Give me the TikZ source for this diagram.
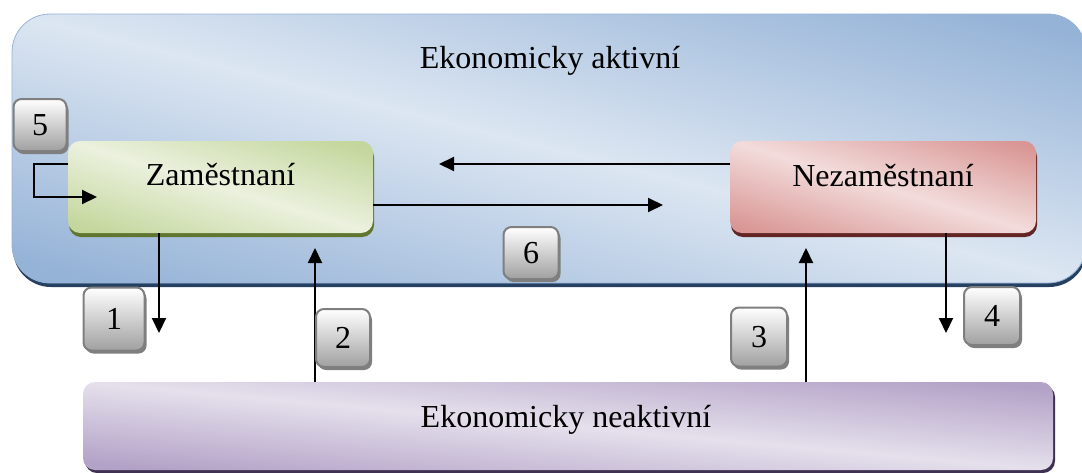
\documentclass[tikz,border=0pt]{standalone}
\usepackage{fontspec}
\setmainfont{Liberation Serif}
\usetikzlibrary{arrows.meta,shadows}
\definecolor{bluedark}{HTML}{95B3D7}
\definecolor{bluelight}{HTML}{DCE6F2}
\definecolor{blueshadow}{HTML}{254061}
\definecolor{greendark}{HTML}{C3D69B}
\definecolor{greenlight}{HTML}{EBF1DE}
\definecolor{greenshadow}{HTML}{5F7530}
\definecolor{reddark}{HTML}{D99694}
\definecolor{redlight}{HTML}{F2DCDB}
\definecolor{redshadow}{HTML}{632523}
\definecolor{purpdark}{HTML}{B3A2C7}
\definecolor{purplight}{HTML}{E5E0EC}
\definecolor{purpshadow}{HTML}{3F3151}
\definecolor{badgeline}{HTML}{7F7F7F}
\definecolor{badgebottom}{HTML}{A0A0A0}
\newcommand\mydiagshade[2]{%
  \pgfpointanchor{path picture bounding box}{south west}\pgfgetlastxy\dsllx\dslly
  \pgfpointanchor{path picture bounding box}{north east}\pgfgetlastxy\dsurx\dsury
  \pgfmathsetmacro\dshw{(\dsurx-\dsllx)/2}%
  \pgfmathsetmacro\dshh{(\dsury-\dslly)/2}%
  \pgfmathsetmacro\dscx{(\dsurx+\dsllx)/2}%
  \pgfmathsetmacro\dscy{(\dsury+\dslly)/2}%
  \begin{scope}[transform canvas={cm={\dshw,0,0,\dshh,(\dscx pt,\dscy pt)}}]
    \shade[top color=#1, bottom color=#1, middle color=#2, shading angle=-45]
      (-1.3pt,-1.3pt) rectangle (1.3pt,1.3pt);
  \end{scope}}
\begin{document}
\begin{tikzpicture}[x=1pt,y=-1pt,
  txt/.style={font=\fontsize{32}{36}\selectfont, anchor=base, inner sep=0pt},
  diag/.style 2 args={path picture={\mydiagshade{#1}{#2}}},
  bigbox/.style={rounded corners=38pt, draw=bluedark, line width=0.8pt,
    diag={bluedark}{bluelight},
    drop shadow={shadow xshift=1pt, shadow yshift=-4pt, fill=blueshadow, opacity=1}},
  catbox/.style={rounded corners=12pt},
  greenbox/.style={catbox, diag={greendark}{greenlight},
    drop shadow={shadow xshift=1pt, shadow yshift=-4pt, fill=greenshadow, opacity=1}},
  redbox/.style={catbox, diag={reddark}{redlight},
    drop shadow={shadow xshift=1pt, shadow yshift=-4pt, fill=redshadow, opacity=1}},
  purpbox/.style={catbox, diag={purpdark}{purplight},
    drop shadow={shadow xshift=2pt, shadow yshift=-3pt, fill=purpshadow, opacity=1}},
  anch/.style={inner sep=0pt, outer sep=0pt},
  badge/.style={rounded corners=8pt, draw=badgeline, line width=2pt,
    top color=white, bottom color=badgebottom, inner sep=0pt,
    minimum width=55pt, minimum height=56pt,
    font=\fontsize{32}{36}\selectfont,
    drop shadow={shadow xshift=2pt, shadow yshift=-3pt, fill=badgeline, opacity=1}},
  arr/.style={line width=2pt, -{Triangle[length=15pt,width=14pt]}},
]
\useasboundingbox (0,0) rectangle (1082,472);

% big blue region
\path[bigbox] (12,14) rectangle (1086,283);
\node[txt] (act) at (550,68) {Ekonomicky aktivní};

% category boxes (shaded shapes + named nodes spanning them)
\path[greenbox] (68,141) rectangle (373,233);
\node[anch, minimum width=305pt, minimum height=92pt] (z) at (220.5,187) {};
\node[txt] (zt) at (220.5,185) {Zaměstnaní};
\path[redbox] (730,141) rectangle (1036,233);
\node[anch, minimum width=306pt, minimum height=92pt] (n) at (883,187) {};
\node[txt] (nt) at (883,186) {Nezaměstnaní};
\path[purpbox] (83,382) rectangle (1053,470);
\node[anch, minimum width=970pt, minimum height=88pt] (p) at (568,426) {};
\node[txt] (pt) at (566,427) {Ekonomicky neaktivní};

% arrow coordinates
\coordinate (l1) at (34,164);
\coordinate (l2) at (97,197);
\coordinate (a1) at (439,164);
\coordinate (a2) at (663,205);
\coordinate (t1) at (159,333);
\coordinate (t2) at (315,248);
\coordinate (t3) at (806,248);
\coordinate (t4) at (946,333);

% arrows
\draw[arr] (z.west|-l1) -- (l1) |- (l2);
\draw[arr] (n.west|-a1) -- (a1);
\draw[arr] (z.east|-a2) -- (a2);
\draw[arr] (t1|-z.south) -- (t1);
\draw[arr] (t2|-p.north) -- (t2);
\draw[arr] (t3|-p.north) -- (t3);
\draw[arr] (t4|-n.south) -- (t4);

% badges
\node[badge, minimum width=53pt, minimum height=52pt] (b5) at (40,125) {5};
\node[badge, minimum width=61pt, minimum height=63pt] (b1) at (114,319) {1};
\node[badge, minimum width=54pt, minimum height=58pt] (b2) at (343,338) {2};
\node[badge, minimum width=56pt, minimum height=59pt] (b3) at (759,337) {3};
\node[badge, minimum width=56pt, minimum height=58pt] (b4) at (992,316) {4};
\node[badge, minimum width=55pt, minimum height=52pt] (b6) at (531,253) {6};
\end{tikzpicture}
\end{document}
